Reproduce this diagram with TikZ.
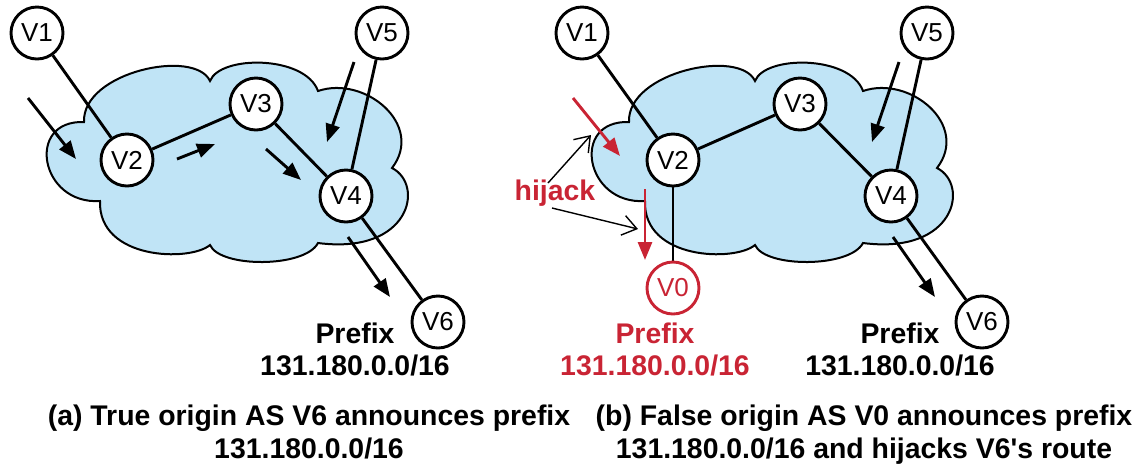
\documentclass[tikz,border=0pt]{standalone}
\usepackage{fontspec}
\setmainfont{Liberation Sans}
\usetikzlibrary{arrows.meta}
\definecolor{cloudblue}{RGB}{192,228,246}
\definecolor{hijackred}{RGB}{201,36,52}
\pgfdeclarelayer{cloudlayer}
\pgfdeclarelayer{linklayer}
\pgfsetlayers{cloudlayer,linklayer,main}
\begin{document}
\begin{tikzpicture}[x=0.5pt,y=-0.5pt,
  asnode/.style={circle,draw,line width=1.45pt,fill=white,minimum size=26pt,inner sep=0pt,font=\fontsize{13}{15}\selectfont},
  fakenode/.style={asnode,draw=hijackred,text=hijackred},
  link/.style={line width=1.45pt},
  flow/.style={line width=1.45pt,-{Triangle[length=9pt,width=7pt]}},
  thinflow/.style={line width=0.7pt,-{Straight Barb[length=7pt,width=10pt,line width=0.7pt]}},
  lbl/.style={font=\bfseries\fontsize{14.2}{16}\selectfont,anchor=base,inner sep=0pt},
  cloudpic/.pic={
    \draw[fill=cloudblue,line width=1pt]
      (84,122) .. controls (82,72) and (195,48) .. (210,81)
      .. controls (220,55) and (305,55) .. (318,91)
      .. controls (365,75) and (425,125) .. (392,168)
      .. controls (425,185) and (410,255) .. (318,243)
      .. controls (305,268) and (220,268) .. (210,245)
      .. controls (190,262) and (98,260) .. (100,201)
      .. controls (40,205) and (25,120) .. (84,122) -- cycle;
  }]
\useasboundingbox (0,0) rectangle (1137,468);

% ---------- (a) true origin ----------
\begin{pgfonlayer}{cloudlayer}
  \pic at (0,0) {cloudpic};
\end{pgfonlayer}
\node[asnode] (a1) at (37,33) {V1};
\node[asnode] (a5) at (382,33) {V5};
\node[asnode] (a3) at (256,104) {V3};
\node[asnode] (a2) at (127,160) {V2};
\node[asnode] (a4) at (346,196) {V4};
\node[asnode] (a6) at (438,322) {V6};
\begin{pgfonlayer}{linklayer}
  \draw[link] (a1) -- (a2);
  \draw[link] (a2) -- (a3);
  \draw[link] (a3) -- (a4);
  \draw[link] (a5) -- (a4);
  \draw[link] (a4) -- (a6);
\end{pgfonlayer}

\coordinate (af1s) at (28,98);   \coordinate (af1e) at (76,159);
\coordinate (af2s) at (177,159); \coordinate (af2e) at (215,144);
\coordinate (af3s) at (266,149); \coordinate (af3e) at (301,180);
\coordinate (af4s) at (354,62);  \coordinate (af4e) at (327,142);
\coordinate (af5s) at (348,237); \coordinate (af5e) at (390,297);
\draw[flow] (af1s) -- (af1e);
\draw[flow] (af2s) -- (af2e);
\draw[flow] (af3s) -- (af3e);
\draw[flow] (af4s) -- (af4e);
\draw[flow] (af5s) -- (af5e);

\node[lbl] (apre) at (355,343) {Prefix};
\node[lbl] (aaddr) at (355,375) {131.180.0.0/16};
\node[lbl] (acap1) at (309,425) {(a) True origin AS V6 announces prefix};
\node[lbl] (acap2) at (309,458) {131.180.0.0/16};

% ---------- (b) false origin ----------
\begin{pgfonlayer}{cloudlayer}
  \pic at (545,0) {cloudpic};
\end{pgfonlayer}
\node[asnode] (b1) at (582,33) {V1};
\node[asnode] (b5) at (927,33) {V5};
\node[asnode] (b3) at (800,104) {V3};
\node[asnode] (b2) at (673,160) {V2};
\node[asnode] (b4) at (891,196) {V4};
\node[asnode] (b6) at (982,322) {V6};
\node[fakenode] (b0) at (673,288) {V0};
\begin{pgfonlayer}{linklayer}
  \draw[link] (b1) -- (b2);
  \draw[link] (b2) -- (b3);
  \draw[link] (b3) -- (b4);
  \draw[link] (b5) -- (b4);
  \draw[link] (b4) -- (b6);
  \draw[link] (b2) -- (b0);
\end{pgfonlayer}

\coordinate (bf1s) at (573,98);  \coordinate (bf1e) at (620,156);
\coordinate (bf2s) at (645,189); \coordinate (bf2e) at (645,260);
\coordinate (bf4s) at (899,62);  \coordinate (bf4e) at (872,142);
\coordinate (bf5s) at (893,237); \coordinate (bf5e) at (935,297);
\draw[flow,hijackred] (bf1s) -- (bf1e);
\draw[flow,hijackred] (bf2s) -- (bf2e);
\draw[flow] (bf4s) -- (bf4e);
\draw[flow] (bf5s) -- (bf5e);

\node[lbl,text=hijackred] (hj) at (555,200) {hijack};
\coordinate (hj1s) at (548,183); \coordinate (hj1) at (591,135);
\coordinate (hj2s) at (552,208); \coordinate (hj2) at (638,229);
\draw[thinflow] (hj1s) -- (hj1);
\draw[thinflow] (hj2s) -- (hj2);

\node[lbl,text=hijackred] (bpre0) at (655,343) {Prefix};
\node[lbl,text=hijackred] (baddr0) at (655,375) {131.180.0.0/16};
\node[lbl] (bpre6) at (900,343) {Prefix};
\node[lbl] (baddr6) at (900,375) {131.180.0.0/16};
\node[lbl] (bcap1) at (864,425) {(b) False origin AS V0 announces prefix};
\node[lbl] (bcap2) at (864,458) {131.180.0.0/16 and hijacks V6\textquotesingle s route};
\end{tikzpicture}
\end{document}
